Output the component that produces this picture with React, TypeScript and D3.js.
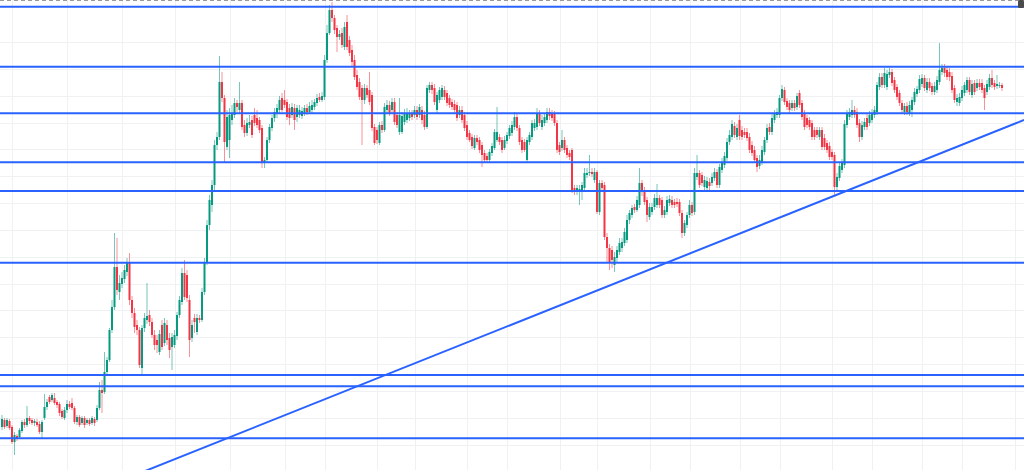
import React from "react";
import * as d3 from "d3";

type Candle = [number, number, number, number]; // open, high, low, close

const candlesA: Candle[] = [
  [107.3,108.5,107.0,108.1],[108.0,108.2,107.1,107.3],[107.4,108.2,107.2,108.0],[107.9,108.1,107.0,107.2],
  [107.3,107.5,105.6,105.8],[105.8,106.8,104.5,106.5],[106.4,106.6,105.9,106.2],[106.3,107.2,106.1,107.0],
  [106.9,108.0,106.7,107.8],[107.8,108.1,107.2,107.5],[107.5,109.4,107.3,108.2],[108.2,108.4,107.6,107.9],
  [108.0,108.2,107.5,107.7],[107.7,108.1,107.4,107.9],[107.8,108.1,107.3,107.5],[107.6,107.9,106.6,106.8],
  [106.8,108.0,106.2,107.8],[108.2,110.6,108.0,109.3],[109.3,110.1,109.0,109.8],[110.3,110.5,109.6,109.8],
  [110.0,110.7,109.8,110.5],[110.2,110.7,109.5,109.7],[109.8,110.0,109.2,109.5],[109.6,109.8,108.4,108.7],
  [108.9,109.1,108.1,108.3],[108.2,109.3,108.0,109.0],[109.0,110.0,108.7,109.6],[109.6,109.9,109.1,109.3],
  [109.7,110.2,109.0,109.2],[109.2,109.4,107.6,107.8],[107.8,108.5,107.5,108.3],[108.3,108.5,107.3,107.5],
  [107.7,108.4,107.5,108.2],[108.2,108.4,107.2,107.5],[107.7,108.2,107.5,108.0],[108.0,108.2,107.4,107.6],
  [107.7,108.4,107.5,108.2],[108.1,108.3,107.4,107.7],[108.0,109.5,107.8,109.2],[109.2,111.8,109.0,111.0],
];

const candlesB: Candle[] = [
  [111.0,112.0,108.7,110.7],[110.8,114.8,110.6,112.8],[112.8,114.3,112.5,114.0],[114.0,117.2,113.8,117.0],
  [117.0,120.0,116.7,119.3],[119.3,126.7,119.0,123.3],[123.3,126.2,120.5,121.0],[120.8,122.5,120.0,121.7],
  [121.6,122.8,121.2,122.2],[122.1,123.5,121.7,123.0],[122.8,124.2,122.4,123.7],[123.7,124.7,119.5,120.0],
  [120.0,120.4,118.2,118.7],[118.7,119.2,116.7,117.3],[117.5,118.0,116.5,117.0],[117.0,117.3,113.2,113.5],
  [113.2,117.5,112.5,117.2],[117.2,118.7,116.8,118.2],[118.0,121.7,117.6,118.4],[118.5,119.0,117.4,117.8],
  [117.8,118.2,116.2,116.5],[116.5,117.0,115.0,115.5],[116.0,116.5,114.7,115.5],[114.8,117.0,114.5,116.6],
  [117.5,118.0,115.0,115.3],[115.7,118.2,115.4,117.7],[117.5,118.0,115.5,116.0],[116.2,116.7,114.2,115.0],
  [115.3,116.7,113.0,116.3],[115.5,117.0,115.2,116.5],[116.4,118.8,116.0,118.5],[118.5,120.4,118.2,120.0],
  [119.8,123.2,119.5,122.7],[122.7,124.0,120.0,120.3],[122.5,123.0,119.8,120.2],[120.0,120.5,114.3,116.0],
  [116.2,118.0,115.8,117.5],[118.2,118.6,116.7,117.8],[116.8,118.6,116.5,118.2],[118.2,118.5,117.7,118.0],
];

const candlesC: Candle[] = [
  [118.0,121.2,117.8,120.8],[120.8,124.2,120.5,123.8],[123.8,128.0,123.5,127.5],[127.5,130.5,127.0,130.0],
  [129.5,132.0,128.8,131.5],[131.5,136.0,131.0,135.5],[135.5,136.8,135.0,136.3],[136.3,144.4,136.0,141.8],
  [141.8,142.8,139.8,140.2],[140.2,140.5,133.8,135.8],[135.3,139.0,135.0,138.3],[136.0,139.2,134.2,138.5],
  [138.0,139.5,137.5,138.7],[138.5,140.2,138.2,139.7],[139.7,140.0,138.8,139.3],[139.0,141.8,138.7,139.7],
  [139.7,140.0,137.0,137.3],[137.5,138.0,136.3,136.7],[136.7,138.2,136.4,137.7],[137.5,138.5,137.2,137.8],
  [138.0,138.4,136.2,136.5],[138.5,139.2,137.4,137.7],[138.2,139.0,137.2,137.5],[138.0,138.3,136.7,137.0],
  [137.2,137.5,133.2,133.7],[133.7,134.3,133.2,134.0],[134.0,136.3,133.7,136.0],[136.0,137.6,135.7,137.3],
  [137.2,138.5,136.9,138.2],[138.2,139.2,137.8,138.8],[138.6,139.6,138.2,139.2],[139.0,140.4,138.7,140.0],
  [140.2,140.7,138.8,139.0],[140.0,141.0,139.2,139.5],[139.8,140.1,138.0,138.3],[139.2,139.6,137.5,138.2],
  [138.5,139.7,138.2,139.3],[139.2,139.6,137.0,138.0],[138.3,139.5,137.8,139.2],[138.5,139.5,138.2,139.0],
];

const candlesD: Candle[] = [
  [138.4,139.3,138.1,138.9],[138.7,139.5,138.4,139.2],[139.2,139.6,138.5,138.8],[138.8,139.8,138.6,139.4],
  [139.0,140.0,138.7,139.5],[139.3,140.1,139.0,139.8],[139.7,140.6,139.4,140.2],[140.3,140.7,139.8,140.0],
  [140.0,140.8,139.8,140.4],[140.3,144.5,140.0,144.0],[144.0,147.5,143.7,146.7],[146.7,149.5,146.5,149.0],
  [149.0,149.8,147.8,148.2],[148.2,148.5,146.6,147.0],[147.2,147.5,144.8,146.3],[146.3,147.0,146.0,146.6],
  [146.7,147.2,145.2,145.5],[145.3,147.8,145.0,147.3],[147.8,148.5,145.0,145.3],[146.0,146.4,144.4,144.7],
  [145.0,145.5,143.4,143.8],[144.0,144.5,142.0,142.3],[142.5,143.0,141.0,141.3],[141.8,142.2,140.0,140.3],
  [141.2,141.5,135.5,140.0],[140.0,141.6,139.6,141.2],[141.2,141.5,140.2,140.5],[141.0,142.8,139.5,139.8],
  [140.5,140.8,136.9,137.2],[137.3,137.6,135.5,135.7],[137.0,137.3,135.6,136.0],[135.7,137.8,135.5,137.5],
  [137.5,137.9,136.7,137.0],[137.0,139.7,136.8,139.3],[139.0,140.0,138.7,139.5],[139.5,139.9,138.4,138.7],
  [139.0,140.2,138.7,139.8],[139.8,140.2,137.5,137.8],[138.5,138.8,137.2,137.5],[136.8,140.2,136.5,138.5],
];

const candlesE: Candle[] = [
  [136.8,138.8,136.6,138.4],[137.8,139.1,137.5,138.7],[138.0,139.2,137.7,138.7],[138.2,139.0,137.9,138.7],
  [138.7,139.0,138.0,138.3],[138.5,139.4,138.2,139.0],[139.0,139.4,138.0,138.3],[138.5,139.6,138.2,139.3],
  [139.0,139.4,137.6,138.0],[138.5,138.9,137.0,137.3],[137.3,141.5,137.1,141.2],[141.0,141.8,140.7,141.5],
  [141.5,141.8,140.6,141.0],[141.2,141.6,139.5,139.8],[139.0,140.8,138.7,140.5],[140.0,141.3,139.7,141.0],
  [140.3,141.5,140.0,141.2],[141.0,141.4,140.0,140.3],[140.7,141.0,139.4,139.7],[140.2,140.5,139.2,139.5],
  [139.8,140.1,139.0,139.3],[139.6,140.0,138.7,139.0],[139.5,139.8,137.9,138.2],[138.5,139.4,138.2,139.0],
  [139.0,139.4,137.7,138.0],[138.5,138.8,136.9,137.2],[137.5,137.9,136.0,136.3],[136.7,137.0,135.8,136.0],
  [136.3,136.6,135.1,135.4],[135.2,136.5,135.0,136.2],[136.2,136.5,135.5,135.8],[136.0,136.3,134.7,135.0],
  [135.5,135.8,133.3,134.5],[134.7,135.0,133.7,134.0],[134.4,134.7,133.8,134.0],[134.0,135.1,133.7,134.8],
  [134.7,135.7,134.4,135.4],[135.2,137.1,135.0,136.8],[136.0,139.3,135.8,136.8],[136.3,136.6,135.5,135.8],
];

const candlesF: Candle[] = [
  [136.0,136.3,134.7,135.0],[135.2,136.4,135.0,136.0],[135.9,136.8,135.6,136.5],[136.4,137.5,136.1,137.2],
  [136.7,137.9,136.4,137.5],[137.3,138.8,137.0,138.3],[138.3,138.6,136.9,137.2],[137.2,137.5,135.5,135.8],
  [136.0,136.3,134.7,135.0],[135.8,136.1,134.8,135.0],[134.0,136.3,133.8,136.0],[135.8,136.8,135.5,136.5],
  [136.3,138.0,136.0,137.7],[137.2,138.1,136.9,137.7],[137.3,139.2,137.0,138.7],[138.7,139.0,137.4,137.7],
  [137.3,138.5,137.0,138.0],[137.7,138.7,137.4,138.3],[138.0,139.2,137.7,138.8],[138.8,139.2,138.0,138.4],
  [138.7,139.0,137.9,138.2],[138.6,138.9,137.4,137.7],[137.7,138.0,134.7,135.0],[135.5,135.8,134.5,134.8],
  [135.2,137.0,134.9,136.0],[136.0,136.3,134.7,135.0],[135.2,135.5,134.2,134.5],[134.7,135.0,134.0,134.3],
  [135.0,135.2,130.7,131.0],[131.2,131.5,130.5,130.8],[130.8,131.5,130.5,131.2],[130.8,131.5,129.5,131.1],
  [131.0,131.8,130.0,131.5],[131.2,133.2,130.9,132.7],[132.5,133.2,132.2,132.7],[132.7,134.5,132.4,132.8],
  [132.8,133.2,132.3,132.6],[132.0,133.2,131.7,132.8],[132.8,133.0,128.6,128.8],[128.8,132.0,128.5,131.7],
];

const candlesG: Candle[] = [
  [131.7,132.0,130.8,131.2],[131.5,131.8,126.0,126.3],[126.3,126.7,123.8,125.2],[125.2,125.6,123.0,123.8],
  [125.0,125.4,123.2,124.0],[123.5,124.8,122.8,124.3],[124.2,125.4,123.8,125.0],[124.8,126.2,124.5,125.7],
  [125.2,126.2,124.8,125.8],[125.7,127.2,125.4,126.8],[126.0,128.5,125.7,128.0],[128.0,129.0,127.6,128.7],
  [128.5,129.5,128.2,129.2],[129.3,129.6,128.7,129.0],[129.0,130.4,128.8,130.0],[129.5,133.2,129.2,131.7],
  [131.7,132.0,130.4,130.8],[131.0,131.3,129.5,129.8],[130.0,130.3,127.8,128.5],[128.3,129.7,128.0,129.3],
  [128.8,129.7,128.5,129.3],[129.3,130.6,129.0,130.2],[129.5,131.6,129.2,130.2],[130.2,130.5,129.2,129.5],
  [130.0,130.3,128.2,128.5],[128.5,129.4,128.2,129.0],[128.8,130.4,128.5,130.0],[129.7,130.5,129.4,130.1],
  [130.0,130.4,129.2,129.5],[129.8,130.1,129.2,129.5],[129.8,130.2,129.3,129.6],[129.8,130.1,128.4,128.7],
  [128.7,129.0,126.2,126.7],[126.7,128.0,126.4,127.7],[127.5,128.8,127.2,128.5],[128.5,130.0,128.2,129.5],
  [129.5,129.8,128.4,128.7],[128.8,133.2,128.5,132.7],[132.3,134.5,132.0,132.7],[132.7,133.0,131.2,131.5],
];

const candlesH: Candle[] = [
  [132.5,132.8,131.4,131.7],[131.3,132.4,131.0,132.0],[131.2,132.3,130.9,131.9],[131.8,132.2,131.0,131.4],
  [131.7,132.7,131.4,132.3],[132.2,133.2,131.9,132.8],[132.8,133.1,131.2,131.5],[131.5,133.6,131.2,133.3],
  [133.0,134.2,132.7,133.8],[133.5,134.8,133.2,134.4],[134.2,136.2,133.9,135.8],[135.8,137.0,135.5,136.5],
  [136.3,138.0,136.0,137.6],[137.4,137.8,136.2,136.5],[136.3,137.6,136.0,137.2],[138.0,138.5,136.0,136.4],
  [137.0,137.4,136.0,136.3],[136.8,137.2,136.2,136.5],[136.8,137.2,135.9,136.2],[136.3,136.7,134.7,135.0],
  [135.5,135.9,134.4,134.7],[135.0,135.4,133.7,134.0],[134.2,134.5,132.8,133.3],[133.4,134.5,133.1,134.0],
  [133.8,135.4,133.5,135.0],[134.8,136.3,134.5,136.0],[136.0,137.6,135.7,137.2],[137.3,137.7,136.5,136.8],
  [136.8,138.6,136.5,138.2],[138.0,139.0,137.7,138.6],[138.5,139.2,138.2,138.8],[138.5,140.5,138.2,140.2],
  [140.2,141.5,139.9,141.1],[141.0,141.3,139.5,139.8],[139.9,140.2,139.0,139.3],[139.7,140.0,138.7,139.0],
  [139.2,140.0,138.9,139.7],[139.7,140.0,138.9,139.2],[139.3,140.7,139.0,140.4],[140.7,141.0,139.2,139.5],
];

const candlesI: Candle[] = [
  [139.7,140.0,138.0,138.3],[138.7,139.0,137.0,137.3],[138.2,138.5,137.2,137.5],[138.0,138.3,137.0,137.3],
  [137.7,138.0,136.0,136.3],[137.0,137.3,136.0,136.3],[137.0,137.3,136.2,136.5],[136.3,137.3,136.0,137.0],
  [137.0,137.3,135.0,135.3],[136.2,136.6,135.0,135.3],[135.7,136.0,134.7,135.0],[135.4,135.8,134.0,134.3],
  [134.8,135.1,134.0,134.3],[134.5,134.8,130.5,131.3],[131.3,132.7,130.8,132.3],[132.2,133.8,131.9,133.4],
  [133.0,134.1,132.7,133.7],[133.5,138.0,133.2,137.6],[137.5,139.0,137.2,138.6],[138.3,139.2,138.0,138.8],
  [138.5,140.0,138.2,139.0],[139.0,139.4,138.2,138.5],[138.8,139.2,137.2,137.5],[137.7,138.1,135.8,136.3],
  [136.3,137.9,136.0,137.5],[137.3,138.2,137.0,137.8],[138.2,138.6,137.0,137.3],[137.7,138.9,137.4,138.5],
  [138.0,139.1,137.7,138.7],[138.5,139.4,138.2,139.0],[138.8,141.8,138.5,141.5],[141.3,142.7,141.0,142.3],
  [142.3,142.7,141.2,141.5],[141.5,143.2,141.2,142.7],[141.3,143.0,141.0,142.6],[142.5,143.2,142.2,142.8],
  [142.8,143.1,141.4,141.7],[142.0,142.3,140.7,141.0],[141.3,141.6,140.0,140.3],[140.7,141.0,139.4,139.7],
];

const candlesJ: Candle[] = [
  [139.7,140.0,138.7,139.0],[138.8,139.7,138.5,139.4],[139.4,139.8,138.5,138.8],[138.7,139.9,138.4,139.5],
  [139.0,140.3,138.3,140.0],[139.8,141.2,139.5,140.8],[140.6,141.4,140.3,141.1],[141.0,142.5,140.7,142.1],
  [141.6,142.6,141.3,142.2],[142.2,142.5,140.9,141.2],[141.0,142.2,140.7,141.8],[141.8,142.2,140.9,141.2],
  [141.4,141.7,140.5,140.8],[140.8,141.8,140.5,141.4],[141.0,142.4,140.7,142.0],[141.8,145.7,141.5,143.0],
  [142.8,143.6,142.5,143.2],[143.2,143.6,142.3,142.7],[143.0,143.4,142.0,142.3],[142.8,143.2,141.9,142.3],
  [142.4,142.8,140.7,141.0],[141.2,141.5,139.7,140.0],[139.8,140.6,139.4,140.2],[139.7,140.7,139.4,140.3],
  [140.2,141.4,139.9,141.0],[140.7,141.8,140.4,141.5],[141.0,142.3,140.7,142.0],[142.0,142.3,140.5,140.8],
  [140.5,142.0,140.2,141.6],[141.7,142.0,140.5,140.8],[141.2,142.1,140.9,141.7],[141.7,142.1,141.0,141.3],
  [141.7,142.1,140.7,141.0],[141.2,141.5,139.0,140.2],[140.8,142.0,140.5,141.6],[141.3,142.6,141.0,142.2],
  [142.2,143.0,141.2,141.5],[141.7,142.0,141.0,141.3],[141.4,142.5,141.1,141.6],[141.4,141.8,141.2,141.5],
  [141.5,141.7,140.9,141.2],
];

const candles: Candle[] = [
  ...candlesA, ...candlesB, ...candlesC, ...candlesD, ...candlesE,
  ...candlesF, ...candlesG, ...candlesH, ...candlesI, ...candlesJ,
];

// horizontal support / resistance levels
const levels = [149.33, 143.33, 138.67, 133.77, 130.9, 123.73, 112.5, 111.37, 106.17];
// rising trendline anchors (candle index, price)
const trendPoints = [
  { index: 90, price: 106.17 },
  { index: 400, price: 137.12 },
];
// grid positions
const priceGrid = [145.8, 143.1, 140.4, 137.7, 135.05, 132.4, 129.7, 127.0, 124.3, 121.65, 119.0, 116.3, 113.6, 110.9, 108.2, 105.5];
const timeGrid = [4, 26, 48, 69, 91, 113, 129, 150, 165, 186, 202, 223, 238, 259, 275, 295, 311, 332, 348, 368, 384, 405];

const W = 1024;
const H = 470;
const UP = "#089981";
const DOWN = "#F23645";
const BLUE = "#2962FF";

export default function App() {
  const x = d3.scaleLinear().domain([0, candles.length - 1]).range([2, 1002]);
  const y = d3.scaleLinear().domain([103, 150]).range([H, 0]);
  const bodyW = 2;

  const tx0 = x(trendPoints[0].index);
  const ty0 = y(trendPoints[0].price);
  const tx1 = x(trendPoints[1].index);
  const ty1 = y(trendPoints[1].price);
  const slope = (ty1 - ty0) / (tx1 - tx0);
  const lineAt = (px: number) => ty0 + slope * (px - tx0);

  return (
    <div style={{ position: "absolute", left: 0, top: 0, width: W, height: H, background: "#fff" }}>
      <svg width={W} height={H} style={{ display: "block" }}>
        <rect x={0} y={0} width={W} height={H} fill="#ffffff" />
        <g>
          {priceGrid.map((p, i) => (
            <line key={"pg" + i} x1={0} x2={W} y1={Math.round(y(p)) + 0.5} y2={Math.round(y(p)) + 0.5} stroke="#f0f1f3" strokeWidth={1} />
          ))}
          {timeGrid.map((t, i) => (
            <line key={"tg" + i} y1={0} y2={H} x1={Math.round(x(t)) + 0.5} x2={Math.round(x(t)) + 0.5} stroke="#f0f1f3" strokeWidth={1} />
          ))}
        </g>
        <g>
          {candles.map(([o, h, l, c], i) => {
            const up = c >= o;
            const col = up ? UP : DOWN;
            const cx = x(i);
            const top = y(Math.max(o, c));
            const bot = y(Math.min(o, c));
            return (
              <g key={i}>
                <line x1={cx} x2={cx} y1={y(h)} y2={y(l)} stroke={col} strokeOpacity={0.55} strokeWidth={1} />
                <rect x={cx - bodyW / 2} y={top} width={bodyW} height={Math.max(1, bot - top)} fill={col} />
              </g>
            );
          })}
        </g>
        <g>
          {levels.map((p, i) => (
            <line key={"lv" + i} x1={0} x2={W} y1={y(p)} y2={y(p)} stroke={BLUE} strokeWidth={2} />
          ))}
          <line x1={0} y1={lineAt(0)} x2={W} y2={lineAt(W)} stroke={BLUE} strokeWidth={2} />
        </g>
        <line x1={0} x2={W} y1={0.5} y2={0.5} stroke="#9a9a9a" strokeWidth={1} strokeDasharray="4 3" />
        <rect x={1018} y={0} width={6} height={8} rx={1.5} fill="#4a4a4a" />
      </svg>
    </div>
  );
}
